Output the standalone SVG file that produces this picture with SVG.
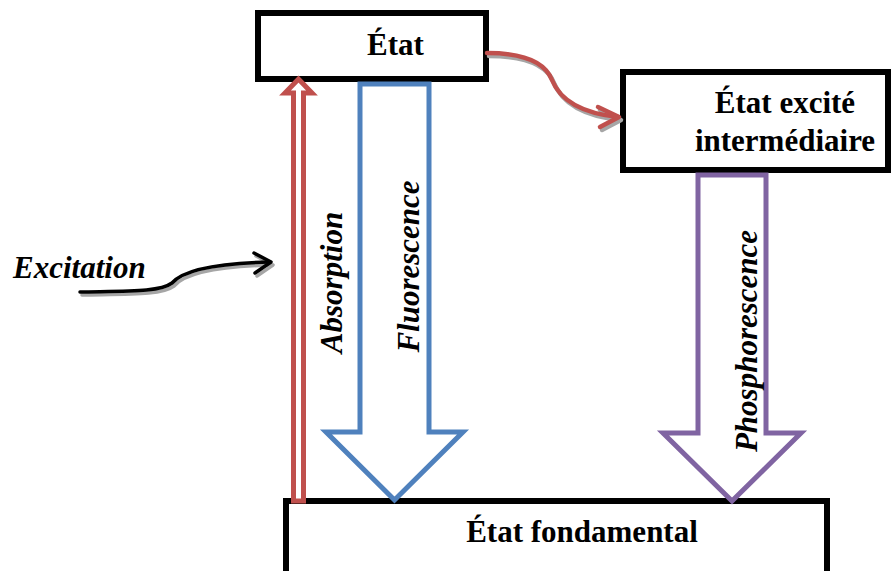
<svg xmlns="http://www.w3.org/2000/svg" width="891" height="571" viewBox="0 0 891 571">
<style>
.box{fill:#fff;stroke:#000;stroke-width:6}
.lbl{font-family:'Liberation Serif','Times New Roman',Times,serif;font-weight:700;font-size:31px;fill:#000}
.it{font-style:italic}
.blk{fill:#fff;stroke-width:5;stroke-linejoin:miter}
.curve{fill:none;stroke-linecap:round;stroke-linejoin:round}
.shadow{stroke:#a6a6a6}
</style>
<rect width="891" height="571" fill="#fff"/>
<g id="etat">
<rect class="box" x="258" y="13" width="228" height="66"/>
<text class="lbl" x="395.5" y="55" text-anchor="middle">État</text>
</g>
<g id="intermediaire">
<rect class="box" x="623" y="72" width="265" height="98"/>
<text class="lbl" x="785" y="113" text-anchor="middle">État excité</text>
<text class="lbl" x="785" y="150.5" text-anchor="middle">intermédiaire</text>
</g>
<g id="fondamental">
<rect class="box" x="286" y="501" width="541" height="80"/>
<text class="lbl" x="582" y="541.5" text-anchor="middle">État fondamental</text>
</g>
<g id="connectors">
<g id="absorption">
<path class="blk" stroke="#C0504D" d="M293.5,501 L293.5,93 L285,93 L298.5,79 L312,93 L303.5,93 L303.5,501 Z"/>
<text class="lbl it" transform="translate(342,282.5) rotate(-90)" text-anchor="middle">Absorption</text>
</g>
<g id="fluorescence">
<path class="blk" stroke="#4F81BD" d="M360,84 L429,84 L429,432 L463,432 L394.5,500 L326,432 L360,432 Z"/>
<text class="lbl it" transform="translate(419,266.5) rotate(-90)" text-anchor="middle">Fluorescence</text>
</g>
<g id="phosphorescence">
<path class="blk" stroke="#8064A2" d="M698,175 L766,175 L766,433 L801,433 L732,501 L663,433 L698,433 Z"/>
<text class="lbl it" transform="translate(757,341) rotate(-90)" text-anchor="middle">Phosphorescence</text>
</g>
<g id="transfer">
<g transform="translate(2,3)">
<path class="curve shadow" stroke-width="4.5" d="M487,53 C522,53 545,62 552,80 C560,100 580,113 618,117"/>
<path class="curve shadow" stroke-width="4.5" d="M598,107 L619,117 L600,127"/>
</g>
<path class="curve" stroke="#C0504D" stroke-width="4.5" d="M487,53 C522,53 545,62 552,80 C560,100 580,113 618,117"/>
<path class="curve" stroke="#C0504D" stroke-width="4.5" d="M598,107 L619,117 L600,127"/>
</g>
<g id="excitation">
<g transform="translate(2,3)">
<path class="curve shadow" stroke-width="3.5" d="M80,292 C130,291 160,292 172,283 C185,268 225,263 270,262"/>
<path class="curve shadow" stroke-width="3.5" d="M254,253 L271,262 L255,273"/>
</g>
<path class="curve" stroke="#000" stroke-width="3.5" d="M80,292 C130,291 160,292 172,283 C185,268 225,263 270,262"/>
<path class="curve" stroke="#000" stroke-width="3.5" d="M254,253 L271,262 L255,273"/>
<text class="lbl it" x="13" y="278">Excitation</text>
</g>
</g>
</svg>
